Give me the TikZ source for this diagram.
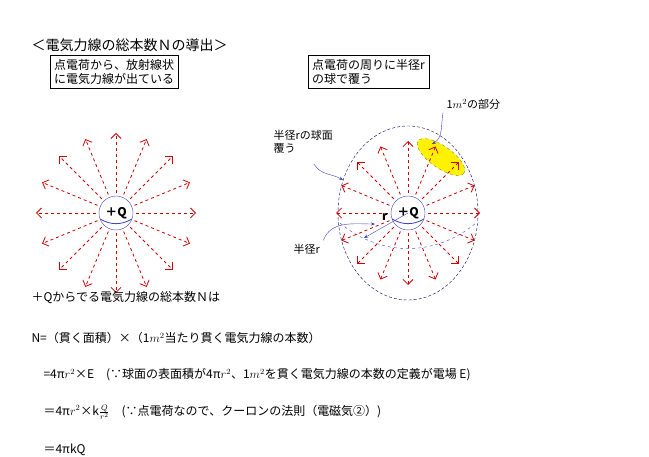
\documentclass[tikz,border=0pt]{standalone}
\usepackage{fontspec}
\setmainfont{Noto Sans CJK JP}
\usetikzlibrary{arrows.meta,calc}
\tikzset{
  fline/.style={red!80!black, dashed, thick, -{Straight Barb[length=5pt]}},
  note/.style={draw, align=left, inner sep=4pt, font=\fontsize{12}{14}\selectfont},
  lbl/.style={font=\fontsize{11}{13}\selectfont, anchor=west},
  eq/.style={anchor=west, font=\fontsize{12}{14}\selectfont},
  pointer/.style={blue!50!gray, thin, -{Stealth[length=4pt]}}
}
\begin{document}
\begin{tikzpicture}[x=1pt,y=-1pt]
  \useasboundingbox (0,0) rectangle (649,457);
  % headings
  \node[anchor=west, font=\fontsize{14}{16}\selectfont] (title) at (28,45) {＜電気力線の総本数Ｎの導出＞};
  \node[note, anchor=north west] (boxl) at (50,55) {点電荷から、放射線状\\に電気力線が出ている};
  \node[note, anchor=north west] (boxr) at (308,55) {点電荷の周りに半径r\\の球で覆う};
  % left charge
  \coordinate (cl) at (116,213);
  \foreach \a in {0,22.5,...,359}
    \draw[fline] (cl) ++(\a:20) -- ++(\a:60);
  \node[draw=blue!50!gray, circle, minimum size=34pt, fill=white, font=\fontsize{12}{14}\selectfont\bfseries] (ql) at (cl) {＋Q};
  \draw[blue!50!gray, thick] ($(cl)+(-16,6)$) to[bend right=30] ($(cl)+(16,6)$);
  % right charge
  \coordinate (cr) at (408,213);
  \draw[blue!40!black, densely dashed] (cr) ellipse (70 and 87);
  \draw[blue!50!gray, dashed] ($(cr)+(-68,10)$) to[bend right=40] ($(cr)+(68,10)$);
  \fill[yellow] (441,157) ellipse[x radius=28, y radius=11, rotate=-35];
  \draw[dashed, olive] (441,157) ellipse[x radius=28, y radius=11, rotate=-35];
  \foreach \a in {0,22.5,...,359}
    \draw[fline] (cr) ++(\a:20) -- ++(\a:52);
  \node[draw=blue!50!gray, circle, minimum size=34pt, fill=white, font=\fontsize{12}{14}\selectfont\bfseries] (qr) at (cr) {＋Q};
  \draw[blue!50!gray, thick] ($(cr)+(-16,6)$) to[bend right=30] ($(cr)+(16,6)$);
  % labels and pointers
  \node[lbl] (area) at (443,104) {1$m^2$の部分};
  \node[lbl, align=left] (surf) at (270,142) {半径rの球面\\覆う};
  \node[lbl] (rad) at (290,249) {半径r};
  \node[font=\fontsize{12}{14}\selectfont\bfseries] (rr) at (385,217) {r};
  \coordinate (areatip) at (432,144);
  \coordinate (surftip) at (343,180);
  \coordinate (radtip) at (375,224);
  \draw[pointer] (area.south west) to[out=-100,in=30] (areatip);
  \draw[pointer] (314,164) to[out=-60,in=150] (surftip);
  \draw[pointer] (rad.north east) to[out=70,in=180] (radtip);
  \draw[blue!50!gray, thin, -{Stealth[length=4pt]}] (cr) -- (364,238);
  % derivation
  \node[eq] (l1) at (28,298) {＋Qからでる電気力線の総本数Ｎは};
  \node[eq] (l2) at (28,338) {N=（貫く面積）×（1$m^2$当たり貫く電気力線の本数）};
  \node[eq] (l3) at (40,375) {=4π$r^2$×E　(∵球面の表面積が4π$r^2$、1$m^2$を貫く電気力線の本数の定義が電場 E)};
  \node[eq] (l4) at (40,412) {＝4π$r^2$×k$\frac{Q}{r^2}$　(∵点電荷なので、クーロンの法則（電磁気②）)};
  \node[eq] (l5) at (40,450) {＝4πkQ};
\end{tikzpicture}
\end{document}
